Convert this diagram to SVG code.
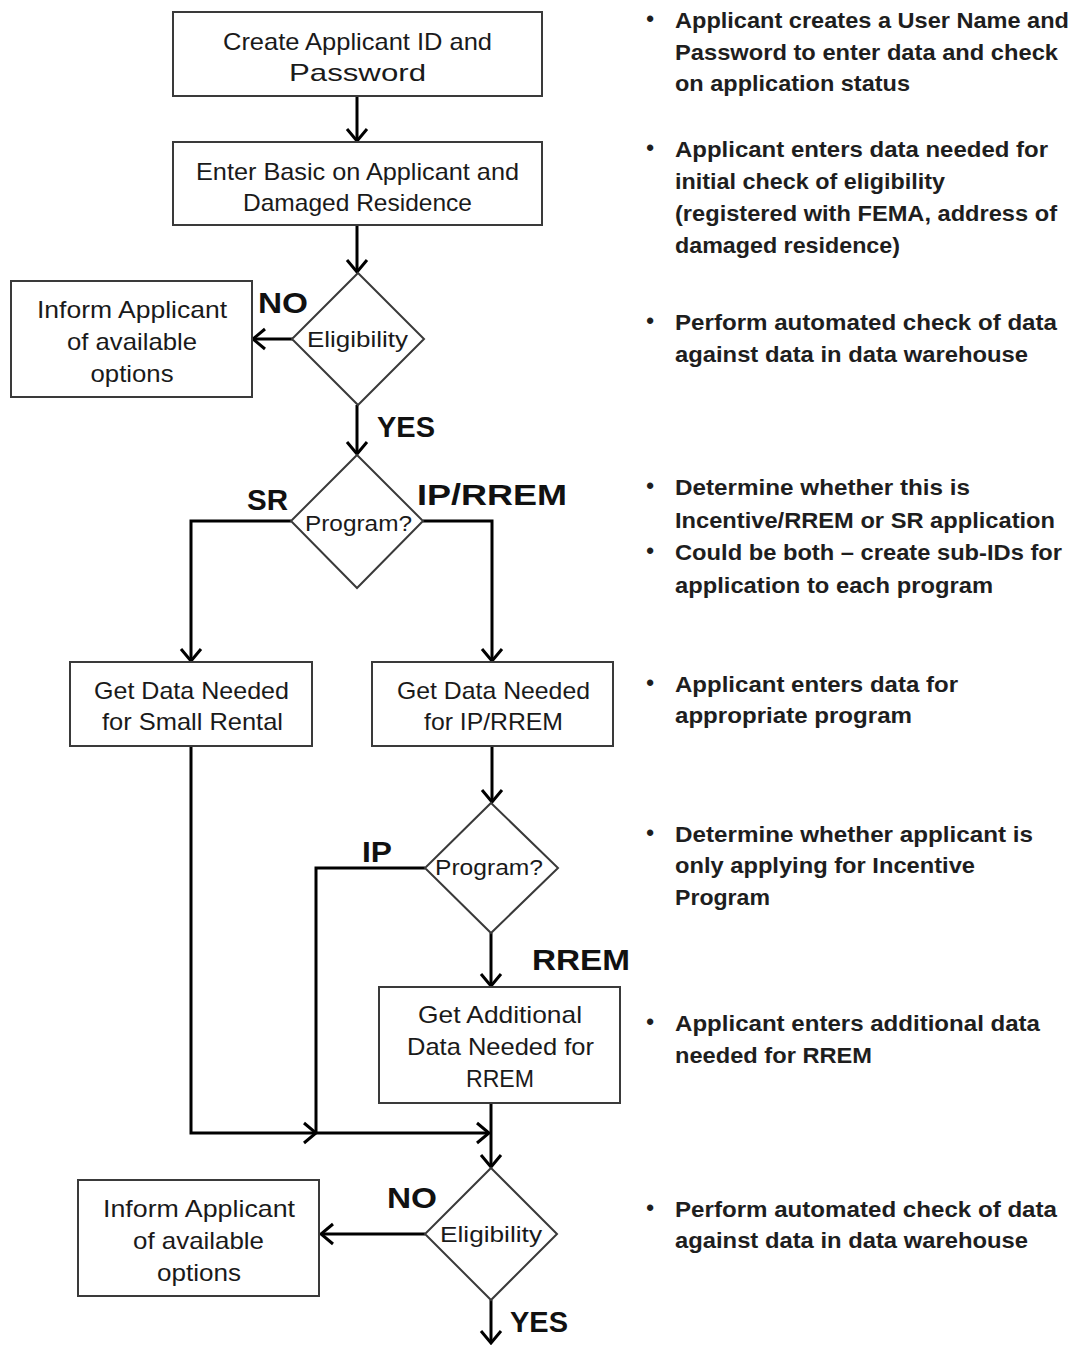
<svg xmlns="http://www.w3.org/2000/svg" width="1078" height="1345" viewBox="0 0 1078 1345">
<style>
.box{fill:#fff;stroke:#3a3a3a;stroke-width:2}
.nt{font-family:"Liberation Sans",Arial,sans-serif;font-size:24px;fill:#1a1a1a;text-anchor:middle}
.dt{font-family:"Liberation Sans",Arial,sans-serif;font-size:22px;fill:#1a1a1a;text-anchor:middle}
.lb{font-family:"Liberation Sans",Arial,sans-serif;font-size:30px;font-weight:bold;fill:#111}
.rt{font-family:"Liberation Sans",Arial,sans-serif;font-size:22px;font-weight:bold;fill:#1e1e1e}
.bu{font-family:"Liberation Sans",Arial,sans-serif;font-size:22px;font-weight:bold;fill:#1e1e1e;text-anchor:middle}
.cn{fill:none;stroke:#000;stroke-width:3;marker-end:url(#ah)}
</style>
<defs>
<marker id="ah" markerWidth="16" markerHeight="24" refX="14" refY="12" orient="auto" markerUnits="userSpaceOnUse">
<path d="M2,2 L14,12 L2,22" fill="none" stroke="#000" stroke-width="3"/>
</marker>
</defs>
<rect width="1078" height="1345" fill="#fff"/>

<g id="connectors">
<path class="cn" d="M357,96 V141"/>
<path class="cn" d="M357,225 V272"/>
<path class="cn" d="M293,339 H253"/>
<path class="cn" d="M357,405 V454"/>
<path class="cn" d="M291,521 H191 V661"/>
<path class="cn" d="M423,521 H492 V661"/>
<path class="cn" d="M492,746 V802"/>
<path class="cn" d="M425,868 H316 V1133 H489"/>
<path class="cn" d="M491,933 V986"/>
<path class="cn" d="M191,746 V1133 H316"/>
<path class="cn" d="M491,1103 V1167"/>
<path class="cn" d="M425,1234 H321"/>
<path class="cn" d="M491,1300 V1343"/>
</g>

<g id="n_create">
<rect class="box" x="173" y="12" width="369" height="84"/>
<text class="nt" x="357.5" y="50" textLength="269" lengthAdjust="spacingAndGlyphs">Create Applicant ID and</text>
<text class="nt" x="357.5" y="81" textLength="137" lengthAdjust="spacingAndGlyphs">Password</text>
</g>
<g id="n_basic">
<rect class="box" x="173" y="142" width="369" height="83"/>
<text class="nt" x="357.5" y="180" textLength="323" lengthAdjust="spacingAndGlyphs">Enter Basic on Applicant and</text>
<text class="nt" x="357.5" y="211" textLength="229" lengthAdjust="spacingAndGlyphs">Damaged Residence</text>
</g>
<g id="n_elig1">
<polygon class="box" points="358,273 424,339 358,405 292,339"/>
<text class="dt" x="357.5" y="347" textLength="101" lengthAdjust="spacingAndGlyphs">Eligibility</text>
</g>
<g id="n_inform1">
<rect class="box" x="11" y="281" width="241" height="116"/>
<text class="nt" x="132" y="318" textLength="190" lengthAdjust="spacingAndGlyphs">Inform Applicant</text>
<text class="nt" x="132" y="350" textLength="130" lengthAdjust="spacingAndGlyphs">of available</text>
<text class="nt" x="132" y="382" textLength="83" lengthAdjust="spacingAndGlyphs">options</text>
</g>
<g id="n_prog1">
<polygon class="box" points="357,455 423,521 357,588 291,521"/>
<text class="dt" x="358.5" y="531" textLength="107" lengthAdjust="spacingAndGlyphs">Program?</text>
</g>
<g id="n_sr">
<rect class="box" x="70" y="662" width="242" height="84"/>
<text class="nt" x="191.5" y="699" textLength="195" lengthAdjust="spacingAndGlyphs">Get Data Needed</text>
<text class="nt" x="192.5" y="730" textLength="181" lengthAdjust="spacingAndGlyphs">for Small Rental</text>
</g>
<g id="n_ip">
<rect class="box" x="372" y="662" width="241" height="84"/>
<text class="nt" x="493.5" y="699" textLength="193" lengthAdjust="spacingAndGlyphs">Get Data Needed</text>
<text class="nt" x="493.5" y="730" textLength="139" lengthAdjust="spacingAndGlyphs">for IP/RREM</text>
</g>
<g id="n_prog2">
<polygon class="box" points="491,803 558,868 491,933 425,868"/>
<text class="dt" x="489" y="875" textLength="108" lengthAdjust="spacingAndGlyphs">Program?</text>
</g>
<g id="n_rrem">
<rect class="box" x="379" y="987" width="241" height="116"/>
<text class="nt" x="500" y="1023" textLength="164" lengthAdjust="spacingAndGlyphs">Get Additional</text>
<text class="nt" x="500.5" y="1055" textLength="187" lengthAdjust="spacingAndGlyphs">Data Needed for</text>
<text class="nt" x="500" y="1087" textLength="68" lengthAdjust="spacingAndGlyphs">RREM</text>
</g>
<g id="n_elig2">
<polygon class="box" points="491,1168 557,1234 491,1300 425,1234"/>
<text class="dt" x="491" y="1242" textLength="102" lengthAdjust="spacingAndGlyphs">Eligibility</text>
</g>
<g id="n_inform2">
<rect class="box" x="78" y="1180" width="241" height="116"/>
<text class="nt" x="199" y="1217" textLength="192" lengthAdjust="spacingAndGlyphs">Inform Applicant</text>
<text class="nt" x="198.5" y="1249" textLength="131" lengthAdjust="spacingAndGlyphs">of available</text>
<text class="nt" x="199" y="1281" textLength="84" lengthAdjust="spacingAndGlyphs">options</text>
</g>

<g id="labels">
<text class="lb" x="258" y="313" textLength="50" lengthAdjust="spacingAndGlyphs">NO</text>
<text class="lb" x="377" y="437" textLength="58" lengthAdjust="spacingAndGlyphs">YES</text>
<text class="lb" x="247" y="510" textLength="41" lengthAdjust="spacingAndGlyphs">SR</text>
<text class="lb" x="417" y="505" textLength="150" lengthAdjust="spacingAndGlyphs">IP/RREM</text>
<text class="lb" x="362" y="862" textLength="30" lengthAdjust="spacingAndGlyphs">IP</text>
<text class="lb" x="532" y="970" textLength="98" lengthAdjust="spacingAndGlyphs">RREM</text>
<text class="lb" x="387" y="1208" textLength="50" lengthAdjust="spacingAndGlyphs">NO</text>
<text class="lb" x="510" y="1332" textLength="58" lengthAdjust="spacingAndGlyphs">YES</text>
</g>

<g id="notes">
<text class="bu" x="650" y="26">•</text>
<text class="rt" x="675" y="28" textLength="394" lengthAdjust="spacingAndGlyphs">Applicant creates a User Name and</text>
<text class="rt" x="675" y="60" textLength="383" lengthAdjust="spacingAndGlyphs">Password to enter data and check</text>
<text class="rt" x="675" y="91" textLength="235" lengthAdjust="spacingAndGlyphs">on application status</text>

<text class="bu" x="650" y="155">•</text>
<text class="rt" x="675" y="157" textLength="373" lengthAdjust="spacingAndGlyphs">Applicant enters data needed for</text>
<text class="rt" x="675" y="189" textLength="270" lengthAdjust="spacingAndGlyphs">initial check of eligibility</text>
<text class="rt" x="675" y="221" textLength="382" lengthAdjust="spacingAndGlyphs">(registered with FEMA, address of</text>
<text class="rt" x="675" y="253" textLength="225" lengthAdjust="spacingAndGlyphs">damaged residence)</text>

<text class="bu" x="650" y="328">•</text>
<text class="rt" x="675" y="330" textLength="382" lengthAdjust="spacingAndGlyphs">Perform automated check of data</text>
<text class="rt" x="675" y="362" textLength="353" lengthAdjust="spacingAndGlyphs">against data in data warehouse</text>

<text class="bu" x="650" y="493">•</text>
<text class="rt" x="675" y="495" textLength="295" lengthAdjust="spacingAndGlyphs">Determine whether this is</text>
<text class="rt" x="675" y="528" textLength="380" lengthAdjust="spacingAndGlyphs">Incentive/RREM or SR application</text>
<text class="bu" x="650" y="558">•</text>
<text class="rt" x="675" y="560" textLength="387" lengthAdjust="spacingAndGlyphs">Could be both – create sub-IDs for</text>
<text class="rt" x="675" y="593" textLength="318" lengthAdjust="spacingAndGlyphs">application to each program</text>

<text class="bu" x="650" y="690">•</text>
<text class="rt" x="675" y="692" textLength="283" lengthAdjust="spacingAndGlyphs">Applicant enters data for</text>
<text class="rt" x="675" y="723" textLength="237" lengthAdjust="spacingAndGlyphs">appropriate program</text>

<text class="bu" x="650" y="840">•</text>
<text class="rt" x="675" y="842" textLength="358" lengthAdjust="spacingAndGlyphs">Determine whether applicant is</text>
<text class="rt" x="675" y="873" textLength="300" lengthAdjust="spacingAndGlyphs">only applying for Incentive</text>
<text class="rt" x="675" y="905" textLength="95" lengthAdjust="spacingAndGlyphs">Program</text>

<text class="bu" x="650" y="1029">•</text>
<text class="rt" x="675" y="1031" textLength="365" lengthAdjust="spacingAndGlyphs">Applicant enters additional data</text>
<text class="rt" x="675" y="1063" textLength="197" lengthAdjust="spacingAndGlyphs">needed for RREM</text>

<text class="bu" x="650" y="1215">•</text>
<text class="rt" x="675" y="1217" textLength="382" lengthAdjust="spacingAndGlyphs">Perform automated check of data</text>
<text class="rt" x="675" y="1248" textLength="353" lengthAdjust="spacingAndGlyphs">against data in data warehouse</text>
</g>
</svg>
